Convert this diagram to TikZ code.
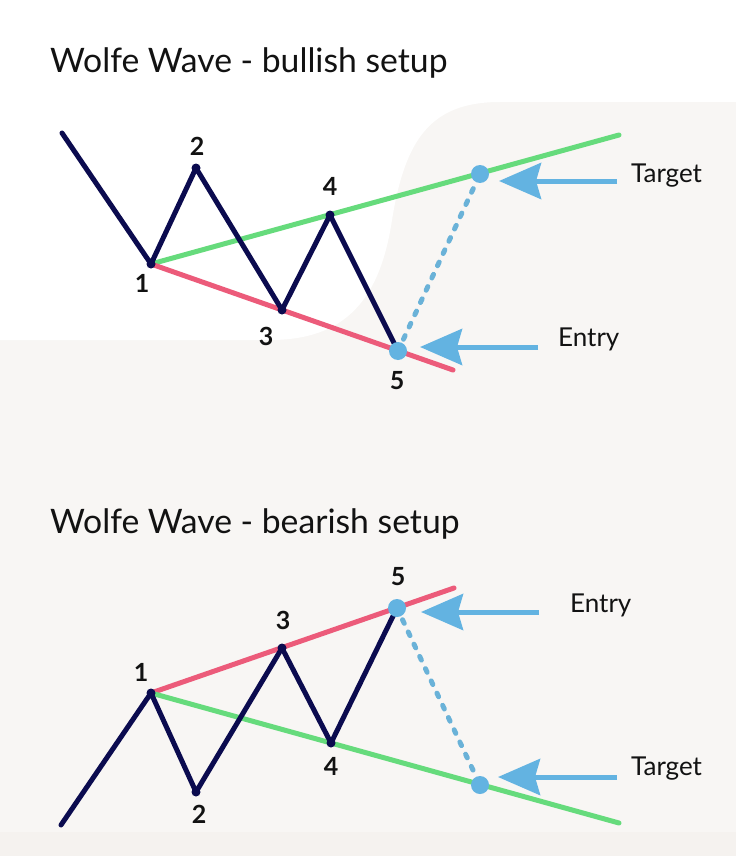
\documentclass[tikz,border=0pt]{standalone}
\usepackage{fontspec}
\setmainfont{Lato}
\usetikzlibrary{arrows.meta}

\definecolor{navyline}{HTML}{0B0B4F}
\definecolor{greenline}{HTML}{66DB7C}
\definecolor{redline}{HTML}{EC5B7A}
\definecolor{bluemark}{HTML}{63B3E1}
\definecolor{dotblue}{HTML}{6AB2D8}
\definecolor{bgbeige}{HTML}{F8F6F4}
\definecolor{bgshade}{HTML}{F5F2EF}
\definecolor{textblack}{HTML}{121212}

\tikzset{
  title/.style={inner sep=0pt, text=textblack, font=\fontsize{33.7}{40}\selectfont},
  numlabel/.style={inner sep=0pt, text=textblack, font=\fontsize{25}{28}\selectfont\bfseries},
  sidelabel/.style={inner sep=0pt, text=textblack, font=\fontsize{26}{30}\selectfont},
  wave/.style={navyline, line width=5pt, line cap=round, line join=round},
  trendline/.style={line width=5pt, line cap=round},
  projection/.style={dotblue, line width=5pt, line cap=round, dash pattern=on 4pt off 9.5pt, shorten >=13pt, shorten <=13pt},
  pointer/.style={bluemark, line width=5pt, -{Stealth[length=42pt, width=36pt, inset=5pt]}}
}

\begin{document}
\begin{tikzpicture}[x=1pt, y=-1pt]
    \useasboundingbox (0,0) rectangle (736,856);

    % 背景
    \fill[bgbeige] (0,0) rectangle (736,856);
    \fill[white] (0,0) -- (736,0) -- (736,102) -- (500,102)
        .. controls (430,102) and (405,140) .. (392,220)
        .. controls (380,300) and (345,340) .. (270,340) -- (0,340) -- cycle;
    \fill[bgshade] (0,832) rectangle (736,856);

    % ===== 看涨形态 =====
    \node[title, anchor=base west] (tbull) at (50,73) {Wolfe Wave - bullish setup};

    \coordinate (u0) at (62,133);
    \coordinate (u1) at (151,264);
    \coordinate (u2) at (196,168);
    \coordinate (u3) at (282,310);
    \coordinate (u4) at (330,215);
    \coordinate (u5) at (398,351);
    \coordinate (ug) at (619,135);
    \coordinate (ur) at (453,370);
    \coordinate (ut) at (480,174);

    % 趋势线 1-4 与 1-3
    \draw[trendline, greenline] (u1) -- (ug);
    \draw[trendline, redline] (u1) -- (ur);

    % 波浪
    \draw[wave] (u0) -- (u1) -- (u2) -- (u3) -- (u4) -- (u5);
    \foreach \p in {u1,u2,u3,u4,u5}
        \fill[navyline] (\p) circle (4.5);

    % 目标投影
    \draw[projection] (u5) -- (ut);
    \fill[bluemark] (u5) circle (9);
    \fill[bluemark] (ut) circle (9);

    % 标注
    \node[numlabel] (un1) at (142,283.5) {1};
    \node[numlabel] (un2) at (197,146) {2};
    \node[numlabel] (un3) at (266,336) {3};
    \node[numlabel] (un4) at (330,186) {4};
    \node[numlabel] (un5) at (397,381) {5};

    \node[sidelabel, anchor=base west] (utarget) at (631,182) {Target};
    \node[sidelabel, anchor=base west] (uentry) at (558,346) {Entry};
    \coordinate (uta) at (617,181);
    \coordinate (utb) at (499,181);
    \coordinate (uea) at (538,347);
    \coordinate (ueb) at (420,347);
    \draw[pointer] (uta) -- (utb);
    \draw[pointer] (uea) -- (ueb);

    % ===== 看跌形态 =====
    \node[title, anchor=base west] (tbear) at (50,533) {Wolfe Wave - bearish setup};

    \coordinate (d0) at (61,825);
    \coordinate (d1) at (151,693);
    \coordinate (d2) at (196,792);
    \coordinate (d3) at (282,648);
    \coordinate (d4) at (331,743);
    \coordinate (d5) at (397,608);
    \coordinate (dr) at (454,588);
    \coordinate (dg) at (619,823);
    \coordinate (dt) at (480,785);

    % 趋势线 1-3 与 1-4
    \draw[trendline, redline] (d1) -- (dr);
    \draw[trendline, greenline] (d1) -- (dg);

    % 波浪
    \draw[wave] (d0) -- (d1) -- (d2) -- (d3) -- (d4) -- (d5);
    \foreach \p in {d1,d2,d3,d4,d5}
        \fill[navyline] (\p) circle (4.5);

    % 目标投影
    \draw[projection] (d5) -- (dt);
    \fill[bluemark] (d5) circle (9);
    \fill[bluemark] (dt) circle (9);

    % 标注
    \node[numlabel] (dn1) at (141,672) {1};
    \node[numlabel] (dn2) at (199,814) {2};
    \node[numlabel] (dn3) at (283,620) {3};
    \node[numlabel] (dn4) at (331,766.5) {4};
    \node[numlabel] (dn5) at (398,577) {5};

    \node[sidelabel, anchor=base west] (dentry) at (570,612) {Entry};
    \node[sidelabel, anchor=base west] (dtarget) at (631,775) {Target};
    \coordinate (dea) at (539,612);
    \coordinate (deb) at (421,612);
    \coordinate (dta) at (617,777);
    \coordinate (dtb) at (498,777);
    \draw[pointer] (dea) -- (deb);
    \draw[pointer] (dta) -- (dtb);
\end{tikzpicture}
\end{document}
